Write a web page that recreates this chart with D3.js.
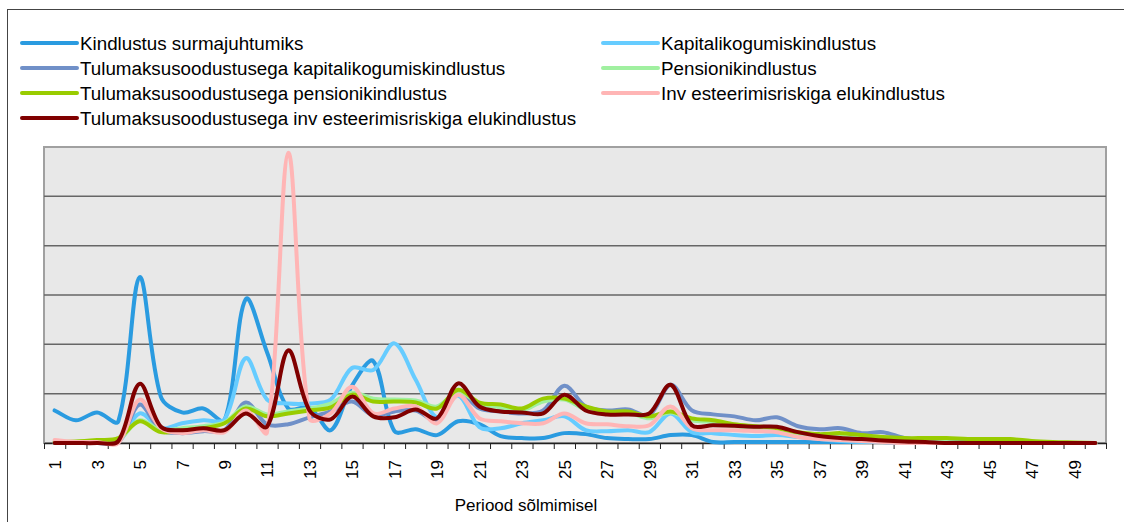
<!DOCTYPE html>
<html><head><meta charset="utf-8">
<script src="https://cdn.jsdelivr.net/npm/d3@7"></script>
<style>body{margin:0;background:#fff;} svg{display:block;font-family:"Liberation Sans",Arial,sans-serif;}</style>
</head><body>
<svg id="c" width="1124" height="522"></svg>
<script>
const categories = [1,2,3,4,5,6,7,8,9,10,11,12,13,14,15,16,17,18,19,20,21,22,23,24,25,26,27,28,29,30,31,32,33,34,35,36,37,38,39,40,41,42,43,44,45,46,47,48,49,50];
const tickLabels = [1,3,5,7,9,11,13,15,17,19,21,23,25,27,29,31,33,35,37,39,41,43,45,47,49];
const seriesNames = ["Kindlustus surmajuhtumiks","Kapitalikogumiskindlustus","Tulumaksusoodustusega kapitalikogumiskindlustus","Pensionikindlustus","Tulumaksusoodustusega pensionikindlustus","Inv esteerimisriskiga elukindlustus","Tulumaksusoodustusega inv esteerimisriskiga elukindlustus"];
const seriesColors = ["#2a9be0","#66ccff","#7090c8","#a0f0a0","#99cc00","#ffb5b5","#800000"];
const surma = [3.3,2.3,3.1,2.2,16.8,4.7,3.1,3.5,2.3,14.6,9.2,3.5,3.6,1.3,5.8,8.3,1.2,1.4,0.8,2.2,1.9,0.7,0.5,0.5,1.0,0.9,0.5,0.4,0.4,0.8,0.8,0.1,0.1,0.1,0.1,0.1,0.1,0.1,0.1,0.1,0,0,0,0,0,0,0,0,0,0];
const kapital = [0,0,0,0.1,3.0,1.5,2.0,2.3,2.4,8.6,4.4,4.0,4.0,4.4,7.6,7.4,10.1,6.4,2.6,4.8,1.6,1.5,2.0,2.3,2.7,1.3,1.2,1.3,1.1,3.0,1.1,1.0,0.8,0.7,0.8,0.6,0.4,0.2,0.1,0.1,0,0,0,0,0,0,0,0,0,0];
const tuluKapital = [0.1,0.1,0.1,0.1,3.9,1.3,1.0,1.2,1.3,4.1,1.9,1.9,2.6,3.2,4.2,2.8,3.2,3.3,2.3,5.2,3.5,3.2,3.0,3.3,5.8,3.7,3.3,3.4,2.8,5.9,3.3,2.9,2.7,2.3,2.6,1.7,1.4,1.5,1.0,1.1,0.5,0.3,0.1,0.1,0,0,0,0,0,0];
const pension = [0,0.1,0.2,0.3,2.3,1.3,1.5,1.7,2.1,3.7,2.9,3.2,3.5,4.0,5.1,4.5,4.4,4.3,3.7,5.2,4.0,3.6,3.3,4.2,4.4,3.4,3.1,3.1,2.5,3.1,2.3,2.1,1.7,1.5,1.3,1.0,0.8,0.7,0.5,0.4,0.3,0.2,0.1,0,0,0,0,0,0,0];
const tuluPension = [0.1,0.15,0.3,0.5,2.2,1.1,1.3,1.5,2.0,3.5,2.7,3.0,3.3,3.6,4.9,4.2,4.2,4.1,3.5,5.4,4.1,3.9,3.5,4.5,4.5,3.7,3.2,3.2,2.7,3.2,2.5,2.3,1.9,1.7,1.5,1.1,0.9,1.0,0.8,0.6,0.5,0.5,0.5,0.4,0.4,0.4,0.2,0.1,0.05,0];
const invest = [0.3,0.1,0.1,0,4.4,1.5,1.0,1.3,1.1,3.3,1.1,29.4,2.5,3.0,5.7,3.0,3.5,3.7,2.0,4.9,2.5,2.2,2.0,2.0,3.0,2.0,1.9,1.7,1.8,3.7,1.5,1.3,1.3,1.2,1.1,0.6,0.4,0.3,0.2,0.1,0,0,0,0,0,0,0,0,0,0];
const tuluInvest = [0,0,0,0.2,6.0,1.65,1.3,1.5,1.3,3.0,1.65,9.4,3.3,2.4,4.7,2.7,2.6,3.4,2.5,6.05,3.7,3.2,3.1,3.0,4.9,3.3,2.9,2.9,3.0,5.9,1.8,1.8,1.75,1.65,1.65,1.1,0.7,0.5,0.4,0.25,0.15,0.1,0,0,0,0,0,0,0,0];
const seriesValues = [surma,kapital,tuluKapital,pension,tuluPension,invest,tuluInvest];
const yGrid = [5,10,15,20,25];
const xTitle = "Periood sõlmimisel";

// Spreadsheet-style smoothing: Bezier handles along (P[i+1]-P[i-1]), scaled by neighbouring chord lengths
function curveSmooth(context){
  let pts;
  return {
    areaStart(){}, areaEnd(){},
    lineStart(){ pts=[]; },
    point(x,y){ pts.push([+x,+y]); },
    lineEnd(){
      const n=pts.length; if(!n) return;
      context.moveTo(pts[0][0],pts[0][1]);
      const dist=(a,b)=>Math.hypot(b[0]-a[0],b[1]-a[1]);
      for(let i=0;i<n-1;i++){
        const p0=pts[Math.max(i-1,0)], p1=pts[i], p2=pts[i+1], p3=pts[Math.min(i+2,n-1)];
        const d01=dist(p0,p1), d12=dist(p1,p2), d23=dist(p2,p3);
        const f1 = (d01+d12)>0 ? d12/(d01+d12)/3 : 0;
        const f2 = (d12+d23)>0 ? d12/(d12+d23)/3 : 0;
        const c1=[p1[0]+(p2[0]-p0[0])*f1, p1[1]+(p2[1]-p0[1])*f1];
        const c2=[p2[0]-(p3[0]-p1[0])*f2, p2[1]-(p3[1]-p1[1])*f2];
        context.bezierCurveTo(c1[0],c1[1],c2[0],c2[1],p2[0],p2[1]);
      }
    }
  };
}

const svg = d3.select("#c");
const L=44, R=1106, T=147, B=443;
const x = d3.scaleLinear().domain([0.5,50.5]).range([L,R]);
const y = d3.scaleLinear().domain([0,30]).range([B,T]);

// outer frame
svg.append("rect").attr("x",7.5).attr("y",9.5).attr("width",1130).attr("height",530)
  .attr("fill","#fff").attr("stroke","#444").attr("stroke-width",1);

// plot background
svg.append("rect").attr("x",L).attr("y",T).attr("width",R-L).attr("height",B-T)
  .attr("fill","#e8e8e8").attr("stroke","#a0a0a0").attr("stroke-width",2);

// gridlines
svg.append("g").selectAll("line").data(yGrid).join("line")
  .attr("x1",L).attr("x2",R).attr("y1",d=>y(d)).attr("y2",d=>y(d))
  .attr("stroke","#666").attr("stroke-width",1.5);

// tick marks between categories
const bounds = categories.map(c=>c-0.5).concat([50.5]);
const axT = svg.append("g").attr("transform",`translate(0,${B})`)
  .call(d3.axisBottom(x).tickValues(bounds).tickFormat("").tickSizeInner(6).tickSizeOuter(0));
axT.select(".domain").attr("stroke","#222").attr("stroke-width",1.5);
axT.selectAll(".tick line").attr("stroke","#222").attr("stroke-width",1);

// tick labels
const axL = svg.append("g").attr("transform",`translate(0,${B})`)
  .call(d3.axisBottom(x).tickValues(tickLabels).tickSize(0).tickFormat(d=>d));
axL.select(".domain").remove();
axL.selectAll(".tick text")
  .attr("transform","rotate(-90)")
  .attr("text-anchor","end")
  .attr("x",-17).attr("y",0).attr("dy","0.35em")
  .attr("font-size",17).attr("font-family","Liberation Sans, Arial, sans-serif").attr("fill","#000");

// lines
const line = d3.line().x((d,i)=>x(categories[i])).y(d=>y(d)).curve(curveSmooth);
svg.append("g").selectAll("path").data(seriesValues).join("path")
  .attr("d",d=>line(d)).attr("fill","none")
  .attr("stroke",(d,i)=>seriesColors[i]).attr("stroke-width",4)
  .attr("stroke-linejoin","round").attr("stroke-linecap","round");

// x title
svg.append("text").attr("x",526).attr("y",511).attr("text-anchor","middle")
  .attr("font-size",17).attr("fill","#000").text(xTitle);

// legend
const legendPos = [[22,43],[603,43],[22,68],[603,68],[22,93],[603,93],[22,118]];
const lg = svg.append("g").selectAll("g").data(seriesNames).join("g")
  .attr("transform",(d,i)=>`translate(${legendPos[i][0]},${legendPos[i][1]})`);
lg.append("line").attr("x1",0).attr("x2",55).attr("y1",0).attr("y2",0)
  .attr("stroke",(d,i)=>seriesColors[i]).attr("stroke-width",4).attr("stroke-linecap","round");
lg.append("text").attr("x",58).attr("y",0).attr("dy","0.35em").attr("font-size",18.8).attr("fill","#000").text(d=>d);
</script>
</body></html>
